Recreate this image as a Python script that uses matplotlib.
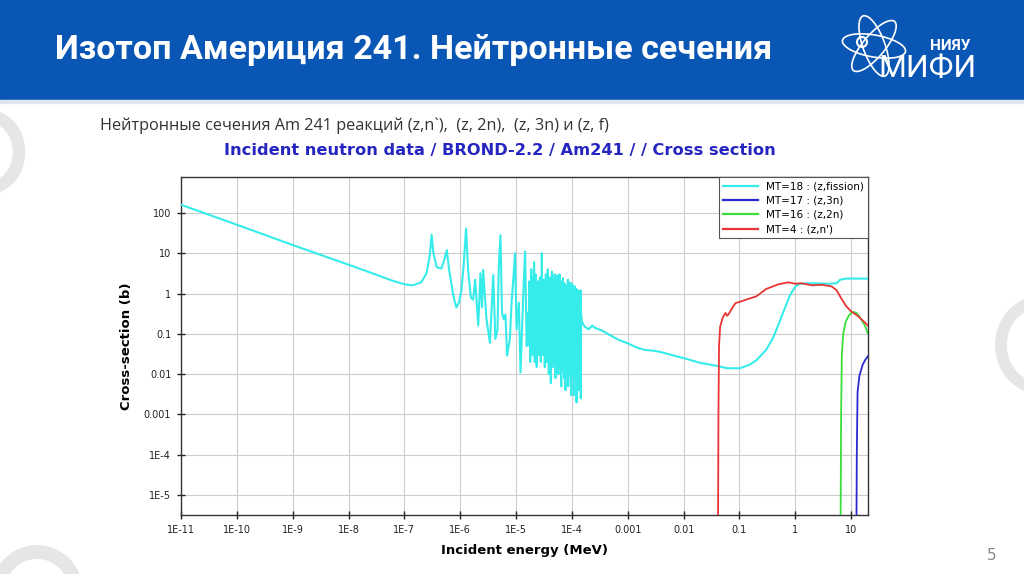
import numpy as np
import matplotlib
matplotlib.use("Agg")
import matplotlib.pyplot as plt
from matplotlib.patches import Rectangle, Arc, Ellipse, Circle
from matplotlib.lines import Line2D

# keep every zigzag of the resonance band (no path simplification)
plt.rcParams["path.simplify"] = False

# ---- data (energy in MeV, cross-section in barns) ----

# fission, thermal + resolved resonances
fis_lo_e = [1e-11, 1e-10, 1e-9, 1e-8, 3e-8, 6e-8, 1e-7, 1.4e-7, 2e-7, 2.5e-7,
            2.85e-7, 3.07e-7, 3.3e-7, 3.8e-7, 4.6e-7, 5.2e-7, 5.75e-7, 6.3e-7,
            7.5e-7, 8.5e-7, 9.5e-7, 1.05e-6, 1.15e-6, 1.27e-6, 1.38e-6, 1.55e-6,
            1.7e-6, 1.85e-6, 2.1e-6, 2.3e-6, 2.45e-6, 2.57e-6, 2.95e-6, 3.4e-6,
            3.9e-6, 4.25e-6, 4.65e-6, 4.9e-6, 5.25e-6, 5.6e-6, 6.0e-6, 6.45e-6,
            6.9e-6, 7.75e-6, 8.3e-6, 8.9e-6, 9.55e-6, 1.02e-5, 1.12e-5, 1.2e-5,
            1.35e-5, 1.45e-5, 1.55e-5, 1.62e-5]
fis_lo_xs = [160, 51, 16, 5.2, 3.0, 2.1, 1.7, 1.6, 1.9, 3.2,
             9, 29, 10, 4.5, 4.2, 7, 12, 4,
             0.9, 0.45, 0.6, 1.2, 5, 41, 4, 0.8,
             0.7, 2.2, 0.16, 3.2, 0.45, 3.9, 0.23, 0.06,
             2.9, 0.075, 0.13, 4.7, 28, 0.33, 0.23, 0.3,
             0.029, 0.074, 0.59, 2.2, 10, 0.13, 0.59, 0.011,
             1.05, 11, 0.05, 0.33]

# fission, dense resonance band (energy in units of 1e-5 MeV)
dense_e_1e5 = [1.70, 1.72, 1.74, 1.76, 1.79, 1.82, 1.84, 1.87, 1.90, 1.92,
               1.95, 1.98, 2.01, 2.04, 2.07, 2.10, 2.13, 2.16, 2.19, 2.22,
               2.25, 2.28, 2.31, 2.34, 2.38, 2.41, 2.44, 2.48, 2.51, 2.55,
               2.58, 2.62, 2.66, 2.70, 2.73, 2.77, 2.81, 2.85, 2.89, 2.93,
               2.97, 3.01, 3.05, 3.10, 3.14, 3.18, 3.23, 3.27, 3.32, 3.36,
               3.41, 3.46, 3.50, 3.55, 3.60, 3.65, 3.70, 3.75, 3.80, 3.86,
               3.91, 3.96, 4.02, 4.07, 4.13, 4.19, 4.25, 4.31, 4.37, 4.43,
               4.49, 4.55, 4.62, 4.68, 4.75, 4.82, 4.89, 4.96, 5.03, 5.10,
               5.17, 5.25, 5.32, 5.40, 5.48, 5.56, 5.64, 5.72, 5.80, 5.89,
               5.97, 6.06, 6.15, 6.24, 6.33, 6.42, 6.51, 6.61, 6.70, 6.80,
               6.90, 7.00, 7.10, 7.21, 7.31, 7.42, 7.53, 7.64, 7.75, 7.86,
               7.98, 8.09, 8.21, 8.33, 8.45, 8.58, 8.70, 8.83, 8.96, 9.09,
               9.22, 9.36, 9.50, 9.63, 9.78, 9.92, 10.1, 10.2, 10.4, 10.5,
               10.7, 10.8, 11.0, 11.1, 11.3, 11.5, 11.6, 11.8, 12.0, 12.1,
               12.3, 12.5, 12.7, 12.8, 13.0, 13.2, 13.4, 13.6, 13.8, 14.0,
               14.2, 14.4, 14.6]
dense_xs = [0.25, 2.0, 0.05, 0.6, 0.02, 1.5, 0.15, 4.0, 0.06, 0.9,
            0.03, 0.5, 2.5, 0.04, 0.3, 6.0, 0.1, 0.02, 0.8, 0.2,
            3.0, 0.05, 0.5, 0.015, 1.2, 0.1, 2.0, 0.04, 0.6, 0.03,
            1.5, 0.2, 2.5, 0.05, 0.8, 0.02, 1.8, 0.1, 10, 0.05,
            0.4, 0.03, 1.0, 0.2, 2.2, 0.04, 0.7, 0.015, 1.5, 0.1,
            3.0, 0.05, 0.6, 0.02, 2.0, 0.15, 4.0, 0.03, 0.8, 0.01,
            1.2, 0.08, 2.5, 0.04, 0.5, 0.006, 1.5, 0.1, 3.5, 0.03,
            0.8, 0.015, 2.0, 0.07, 1.0, 0.02, 3.0, 0.1, 0.5, 0.008,
            2.2, 0.05, 1.2, 0.02, 2.8, 0.1, 0.6, 0.01, 1.8, 0.06,
            3.0, 0.015, 0.9, 0.04, 1.5, 0.005, 2.0, 0.08, 0.7, 0.012,
            2.4, 0.05, 1.1, 0.008, 1.8, 0.1, 0.6, 0.004, 1.6, 0.03,
            0.8, 0.012, 1.5, 0.06, 2.2, 0.005, 1.0, 0.04, 1.9, 0.009,
            0.7, 0.05, 1.4, 0.003, 1.8, 0.03, 0.9, 0.01, 1.6, 0.06,
            1.2, 0.003, 0.8, 0.04, 1.5, 0.008, 1.0, 0.02, 1.3, 0.002,
            0.7, 0.03, 1.2, 0.006, 0.9, 0.02, 1.1, 0.004, 0.5, 0.03,
            1.2, 0.0025, 0.3]

# fission, smooth part above the resonances
fis_hi_e = [1.5e-4, 1.7e-4, 2.0e-4, 2.3e-4, 2.6e-4, 3.5e-4, 5e-4, 7e-4, 1e-3,
            1.5e-3, 2e-3, 3e-3, 4e-3, 6e-3, 1e-2, 2e-2, 4e-2, 6e-2, 0.1, 0.15,
            0.2, 0.3, 0.4, 0.5, 0.6, 0.8, 1.0, 1.2, 2, 4, 5.5, 6.3, 8, 12, 20]
fis_hi_xs = [0.2, 0.15, 0.13, 0.16, 0.14, 0.12, 0.09, 0.07, 0.058,
             0.045, 0.04, 0.038, 0.035, 0.03, 0.025, 0.019, 0.016, 0.014, 0.014, 0.017,
             0.022, 0.04, 0.08, 0.17, 0.33, 0.9, 1.5, 1.75, 1.8, 1.75, 1.8, 2.2, 2.35, 2.35, 2.35]

# (z,n') inelastic
inl_e = [0.041, 0.042, 0.043, 0.045, 0.050, 0.056, 0.060, 0.065, 0.075, 0.085,
         0.1, 0.15, 0.2, 0.3, 0.5, 0.75, 1.0, 1.3, 2, 3, 4.5, 5.5, 6.5, 8, 10,
         13, 17, 20]
inl_xs = [1e-7, 0.001, 0.05, 0.15, 0.25, 0.33, 0.28, 0.32, 0.45, 0.58,
          0.62, 0.75, 0.85, 1.3, 1.7, 1.9, 1.75, 1.8, 1.6, 1.65, 1.5, 1.2, 0.8, 0.5, 0.36,
          0.28, 0.2, 0.16]

# (z,2n)
n2n_e = [6.4, 6.6, 6.8, 7.2, 8, 9, 10, 11, 12.5, 14, 16, 18, 20]
n2n_xs = [1e-7, 0.001, 0.03, 0.1, 0.2, 0.28, 0.33, 0.35, 0.33, 0.27, 0.2, 0.15, 0.1]

# (z,3n)
n3n_e = [12.3, 12.6, 13, 14, 16, 18, 20]
n3n_xs = [1e-7, 1e-4, 0.0035, 0.009, 0.017, 0.023, 0.028]

x_ticks = [1e-11, 1e-10, 1e-9, 1e-8, 1e-7, 1e-6, 1e-5, 1e-4, 1e-3, 1e-2, 0.1, 1, 10]
x_labels = ["1E-11", "1E-10", "1E-9", "1E-8", "1E-7", "1E-6", "1E-5", "1E-4",
            "0.001", "0.01", "0.1", "1", "10"]
y_ticks = [1e-5, 1e-4, 1e-3, 1e-2, 0.1, 1, 10, 100]
y_labels = ["1E-5", "1E-4", "0.001", "0.01", "0.1", "1", "10", "100"]

legend_labels = ["MT=18 : (z,fission)", "MT=17 : (z,3n)", "MT=16 : (z,2n)", "MT=4 : (z,n')"]

CYAN = "#36ecea"
BLUE = "#2a2ad0"
GREEN = "#3ade3a"
RED = "#e83434"

W, H = 1024, 574
fig = plt.figure(figsize=(W / 100, H / 100), dpi=100)
fig.patch.set_facecolor("white")

# ---- slide decoration, drawn in pixel coordinates ----
bg = fig.add_axes([0, 0, 1, 1])
bg.set_xlim(0, W)
bg.set_ylim(H, 0)
bg.axis("off")

bg.add_patch(Rectangle((0, 0), W, 100, color="#0a56b5", zorder=1))
bg.add_patch(Rectangle((0, 100), W, 3, color="#dfe6ef", zorder=1))

arc_col = "#e6e6e8"
bg.add_patch(Arc((-12, 152), 62, 72, lw=9, color=arc_col))
bg.add_patch(Arc((37, 592), 78, 80, lw=10, color=arc_col))
bg.add_patch(Arc((1040, 345), 78, 86, lw=8.5, color=arc_col))

bg.text(55, 50, "Изотоп Америция 241. Нейтронные сечения", color="white",
        fontsize=24.5, fontweight="bold", family="Roboto", va="center", ha="left")

# logo
for ang in (10, 70, -50):
    bg.add_patch(Ellipse((874, 46), 64, 22, angle=ang, fill=False, ec="white", lw=1.2))
bg.add_patch(Circle((862, 42), 5, fill=False, ec="white", lw=1.5))
bg.text(930, 46, "НИЯУ", color="white", fontsize=11, fontweight="bold",
        family="Roboto", va="center", ha="left")
bg.text(878, 69, "МИФИ", color="white", fontsize=23, family="Roboto",
        va="center", ha="left")

bg.text(100, 126, "Нейтронные сечения Am 241 реакций (z,n`),  (z, 2n),  (z, 3n) и (z, f)",
        color="#333333", fontsize=11.7, family="Open Sans", va="center", ha="left")
bg.text(224, 150, "Incident neutron data / BROND-2.2 / Am241 / / Cross section",
        color="#2525c0", fontsize=11.7, fontweight="bold", family="DejaVu Sans",
        va="center", ha="left")
bg.text(992, 556, "5", color="#8a8a8a", fontsize=11, va="center", ha="center")

# ---- chart ----
ax = fig.add_axes([181 / W, 1 - 515 / H, 687 / W, 338 / H])
ax.set_xscale("log")
ax.set_yscale("log")

fis_e = fis_lo_e + [v * 1e-5 for v in dense_e_1e5] + fis_hi_e
fis_xs = fis_lo_xs + dense_xs + fis_hi_xs

ax.plot(fis_e, fis_xs, color=CYAN, lw=1.5, zorder=3)
ax.plot(n3n_e, n3n_xs, color=BLUE, lw=1.3, zorder=3)
ax.plot(n2n_e, n2n_xs, color=GREEN, lw=1.3, zorder=3)
ax.plot(inl_e, inl_xs, color=RED, lw=1.3, zorder=3)

ax.set_xlim(1e-11, 20)
ax.set_ylim(3.2e-6, 780)

tick_font = {"family": ["Liberation Sans Narrow", "DejaVu Sans"], "size": 7}
ax.set_xticks(x_ticks)
ax.set_xticklabels(x_labels, fontdict=tick_font)
ax.set_yticks(y_ticks)
ax.set_yticklabels(y_labels, fontdict=tick_font)
ax.minorticks_off()
ax.tick_params(direction="inout", length=6, width=1, colors="#222222", pad=4)

ax.grid(True, color="#cccccc", lw=0.8)
ax.set_axisbelow(True)
for s in ax.spines.values():
    s.set_color("#333333")
    s.set_linewidth(1)

ax.set_xlabel("Incident energy (MeV)", fontsize=9.5, family="DejaVu Sans",
              fontweight="semibold", labelpad=7)
ax.set_ylabel("Cross-section (b)", fontsize=9.5, family="DejaVu Sans",
              fontweight="semibold", labelpad=8)

handles = [Line2D([], [], color=c, lw=1.6) for c in (CYAN, BLUE, GREEN, RED)]
leg = ax.legend(handles, legend_labels, loc="upper right", fontsize=7.5,
                handlelength=3.3, labelspacing=0.42, borderaxespad=0.0,
                fancybox=False, framealpha=1, edgecolor="#555555")
leg.get_frame().set_linewidth(0.8)

fig.savefig("out.png", dpi=100)
